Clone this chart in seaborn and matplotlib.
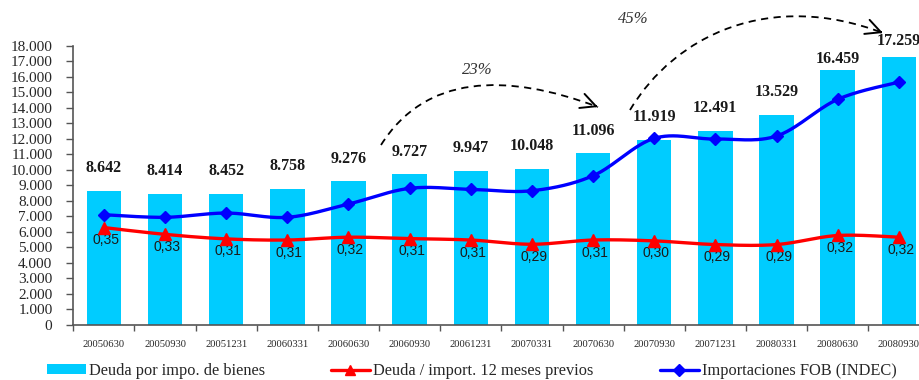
import numpy as np
import pandas as pd
import matplotlib
matplotlib.use("Agg")
import matplotlib.pyplot as plt
import seaborn as sns
from matplotlib.path import Path
from matplotlib.patches import PathPatch, Patch
from matplotlib.lines import Line2D
import matplotlib.ticker as mticker

# ---------------- data ----------------
fechas = ["20050630", "20050930", "20051231", "20060331", "20060630", "20060930", "20061231",
          "20070331", "20070630", "20070930", "20071231", "20080331", "20080630", "20080930"]
deuda = [8642, 8414, 8452, 8758, 9276, 9727, 9947, 10048, 11096, 11919, 12491, 13529, 16459, 17259]
importaciones = [7107, 6940, 7216, 6940, 7796, 8808, 8744, 8653, 9620, 12030, 11985, 12178, 14543, 15657]
ratio = [0.350, 0.326, 0.310, 0.306, 0.316, 0.311, 0.306, 0.291, 0.306, 0.303, 0.290, 0.290, 0.322, 0.316]
crec_1 = "23%"
crec_2 = "45%"

serie_bar = "Deuda por impo. de bienes"
serie_ratio = "Deuda / import. 12 meses previos"
serie_imp = "Importaciones FOB (INDEC)"

# label vertical offsets (pixels) above bars
bar_lbl_off = [23, 23, 23, 23, 22, 22, 23, 23, 22, 23, 23, 23, 11, 16]

sns.set_style("ticks")
plt.rcParams["font.family"] = ["Liberation Serif", "DejaVu Serif"]

W, H = 920, 380
fig = plt.figure(figsize=(W / 100, H / 100), dpi=100)
ax = fig.add_axes([73.3 / W, 1 - 325 / H, (929.4 - 73.3) / W, (325 - 45.7) / H])

df = pd.DataFrame({"fecha": fechas, "deuda": deuda})
sns.barplot(data=df, x="fecha", y="deuda", color="#00CCFF", saturation=1, width=0.565,
            linewidth=0, ax=ax, zorder=1)

x = np.arange(len(fechas))


def smooth(xv, yv, n=30):
    xv = np.asarray(xv, float)
    yv = np.asarray(yv, float)
    P = np.column_stack([xv, yv])
    out = []
    for i in range(len(P) - 1):
        p0 = P[i - 1] if i > 0 else P[i]
        p1 = P[i]
        p2 = P[i + 1]
        p3 = P[i + 2] if i + 2 < len(P) else P[i + 1]
        c1 = p1 + (p2 - p0) / 6
        c2 = p2 - (p3 - p1) / 6
        t = np.linspace(0, 1, n)[:, None]
        seg = (1 - t) ** 3 * p1 + 3 * t * (1 - t) ** 2 * c1 + 3 * t ** 2 * (1 - t) * c2 + t ** 3 * p2
        out.append(seg if i == 0 else seg[1:])
    s = np.vstack(out)
    return s[:, 0], s[:, 1]


sx, sy = smooth(x, importaciones)
ax.plot(sx, sy, color="#0000FF", lw=2.4, zorder=3, solid_capstyle="round")
ax.plot(x, importaciones, linestyle="none", marker="D", ms=6.3, color="#0000FF", zorder=4)

ax.set_xlim(-0.5, 13.5)
ax.set_ylim(0, 18000)
ax.yaxis.set_major_locator(mticker.MultipleLocator(1000))
ax.yaxis.set_major_formatter(mticker.FuncFormatter(lambda v, p: f"{int(v):,}".replace(",", ".")))
ax.set_xticks(np.arange(-0.5, 14, 1))
ax.set_xticklabels([])
ax.set_xticks(x, minor=True)
ax.set_xticklabels(fechas, minor=True, fontsize=7.6)
ax.tick_params(axis="x", which="minor", length=0, pad=10.5)
ax.tick_params(axis="x", which="major", length=4, width=1, color="#555555")
ax.tick_params(axis="y", length=5, width=1, color="#555555", pad=10, labelsize=11)
ax.set_xlabel("")
ax.set_ylabel("")
for s in ["top", "right"]:
    ax.spines[s].set_visible(False)
for s in ["left", "bottom"]:
    ax.spines[s].set_color("#555555")
    ax.spines[s].set_linewidth(1.2)

for xi, v, off in zip(x, deuda, bar_lbl_off):
    ax.annotate(f"{v:,}".replace(",", "."), (xi, v), xytext=(0, off), textcoords="offset pixels",
                ha="center", va="center", fontsize=11.5, fontweight="bold", color="#1a1a1a")

ax2 = ax.twinx()
ax2.set_ylim(0.006, 0.992)
rx, ry = smooth(x, ratio)
ax2.plot(rx, ry, color="#FF0000", lw=2.4, zorder=3)
ax2.plot(x, ratio, linestyle="none", marker="^", ms=8, color="#FF0000", zorder=4)
for xi, v in zip(x, ratio):
    ax2.annotate(f"{v:.2f}".replace(".", ","), (xi, v), xytext=(2, -12.5), textcoords="offset pixels",
                 ha="center", va="center", fontsize=10, family=["Liberation Sans", "DejaVu Sans"],
                 color="#1a1a1a")
ax2.set_axis_off()
ax2.set_xlim(-0.5, 13.5)


# dashed curved arrows (image pixel coords -> figure pixels)
def fp(px, py):
    return (px, H - py)


def curved_arrow(pts):
    verts = [fp(*p) for p in pts]
    path = Path(verts, [Path.MOVETO, Path.CURVE4, Path.CURVE4, Path.CURVE4])
    patch = PathPatch(path, facecolor="none", edgecolor="black", lw=1.3, linestyle=(0, (4, 3)),
                      transform=None)
    fig.patches.append(patch)
    end = np.array(verts[3])
    d = end - np.array(verts[2])
    d = d / np.linalg.norm(d)
    start = end - d * 3
    fig.add_artist(matplotlib.patches.FancyArrowPatch(
        posA=tuple(start), posB=tuple(end), arrowstyle="->,head_length=0.9,head_width=0.45",
        mutation_scale=12, lw=1.4, color="black", transform=None, shrinkA=0, shrinkB=0))


curved_arrow([(381, 145), (425, 75), (505, 72), (598, 107)])
curved_arrow([(630, 110), (675, 35), (770, -10), (883, 33)])

fig.text(477 / W, 1 - 70 / H, crec_1, ha="center", va="center", fontsize=12, style="italic", color="#333333")
fig.text(633 / W, 1 - 19 / H, crec_2, ha="center", va="center", fontsize=12, style="italic", color="#333333")

# legend
h1 = Patch(facecolor="#00CCFF", edgecolor="none")
h2 = Line2D([], [], color="#FF0000", lw=2.4, marker="^", ms=7.5)
h3 = Line2D([], [], color="#0000FF", lw=2.4, marker="D", ms=6)
for h, lab, xp in [(h1, serie_bar, 47), (h2, serie_ratio, 331), (h3, serie_imp, 660)]:
    lg = fig.legend(handles=[h], labels=[lab], loc="center left", bbox_to_anchor=(xp / W, 1 - 371 / H),
                    frameon=False, fontsize=11.8, handlelength=2.35, handletextpad=0.22,
                    borderpad=0, borderaxespad=0, handleheight=0.6)

fig.savefig("out.png", dpi=100)
